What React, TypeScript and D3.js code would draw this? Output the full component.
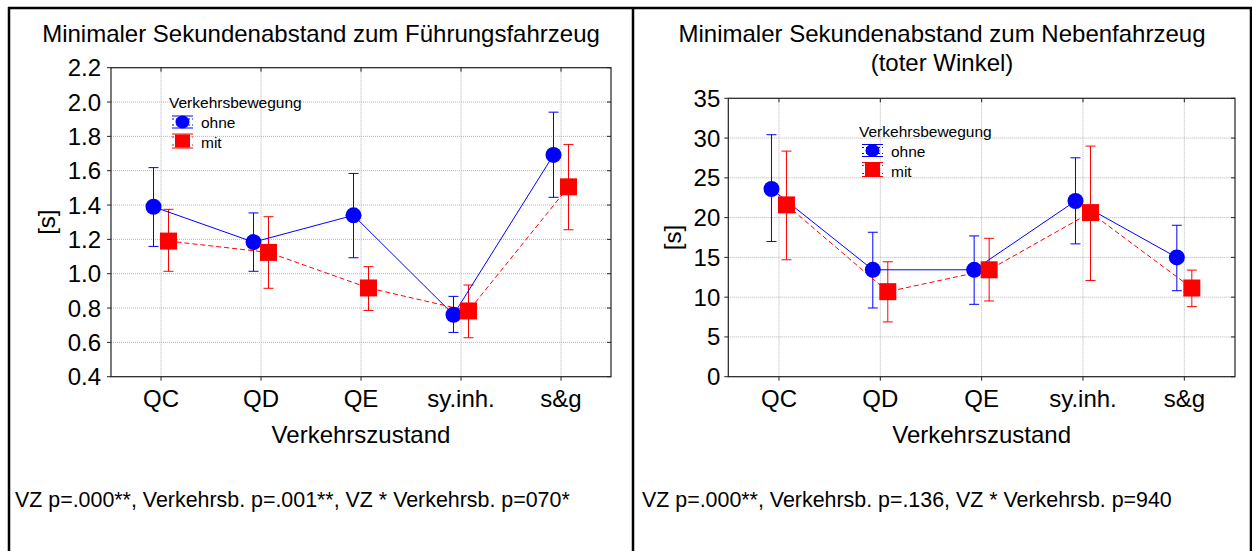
import React from "react";
import * as d3 from "d3";

const categories = ["QC", "QD", "QE", "sy.inh.", "s&g"];

// Left panel: Führungsfahrzeug [s]
const leftOhneMean = [1.39, 1.184, 1.34, 0.761, 1.692];
const leftOhneUpper = [1.618, 1.354, 1.584, 0.868, 1.941];
const leftOhneLower = [1.159, 1.014, 1.093, 0.658, 1.445];
const leftMitMean = [1.19, 1.124, 0.917, 0.783, 1.506];
const leftMitUpper = [1.375, 1.332, 1.041, 0.934, 1.753];
const leftMitLower = [1.014, 0.915, 0.786, 0.627, 1.256];
const leftTicks = [0.4, 0.6, 0.8, 1.0, 1.2, 1.4, 1.6, 1.8, 2.0, 2.2];

// Right panel: Nebenfahrzeug [s]
const rightOhneMean = [23.6, 13.44, 13.44, 22.09, 14.99];
const rightOhneUpper = [30.42, 18.16, 17.7, 27.52, 19.04];
const rightOhneLower = [17.0, 8.64, 9.1, 16.7, 10.81];
const rightMitMean = [21.6, 10.69, 13.44, 20.63, 11.15];
const rightMitUpper = [28.36, 14.45, 17.4, 28.99, 13.4];
const rightMitLower = [14.7, 6.89, 9.52, 12.1, 8.81];
const rightTicks = [0, 5, 10, 15, 20, 25, 30, 35];

const legendTitle = "Verkehrsbewegung";
const seriesNames = ["ohne", "mit"];
const xTitle = "Verkehrszustand";
const yTitle = "[s]";
const leftTitle = ["Minimaler Sekundenabstand zum Führungsfahrzeug"];
const rightTitle = ["Minimaler Sekundenabstand zum Nebenfahrzeug", "(toter Winkel)"];
const leftNote = "VZ p=.000**, Verkehrsb. p=.001**, VZ * Verkehrsb. p=070*";
const rightNote = "VZ p=.000**, Verkehrsb. p=.136, VZ * Verkehrsb. p=940";

const FONT = "'Liberation Sans', Arial, Helvetica, sans-serif";
const BLUE = "#0000ff";
const RED = "#ff0000";

type Series = { mean: number[]; upper: number[]; lower: number[] };

type PanelProps = {
  x0: number;
  x1: number;
  y0: number;
  y1: number;
  domain: [number, number];
  ticks: number[];
  fmt: (v: number) => string;
  ohne: Series;
  mit: Series;
  panelCenter: number;
  title: string[];
  legendX: number;
  legendY: number;
  yLabelX: number;
  tickGap: number;
  note: string;
  noteX: number;
};

function Panel(p: PanelProps) {
  const x = d3.scaleBand<string>().domain(categories).range([p.x0, p.x1]);
  const y = d3.scaleLinear().domain(p.domain).range([p.y1, p.y0]);
  const cx = (c: string) => (x(c) as number) + x.bandwidth() / 2;
  const off = 7.5;
  const cap = 5;

  const lineGen = (dx: number) =>
    d3
      .line<number>()
      .x((_, i) => cx(categories[i]) + dx)
      .y((v) => y(v));

  const renderErr = (s: Series, dx: number, color: string) =>
    categories.map((c, i) => {
      const xx = cx(c) + dx;
      return (
        <g key={"e" + c} stroke={color} strokeWidth={1}>
          <line x1={xx} x2={xx} y1={y(s.upper[i])} y2={y(s.lower[i])} />
          <line x1={xx - cap} x2={xx + cap} y1={y(s.upper[i])} y2={y(s.upper[i])} />
          <line x1={xx - cap} x2={xx + cap} y1={y(s.lower[i])} y2={y(s.lower[i])} />
        </g>
      );
    });

  const midY = (p.y0 + p.y1) / 2;

  return (
    <g>
      {/* title */}
      {p.title.map((t, i) => (
        <text
          key={t}
          x={p.panelCenter}
          y={42 + i * 28.5}
          textAnchor="middle"
          fontSize={24}
          fontFamily={FONT}
          fill="#000"
        >
          {t}
        </text>
      ))}
      {/* grid */}
      {p.ticks.map((t) => (
        <line
          key={"gy" + t}
          x1={p.x0}
          x2={p.x1}
          y1={y(t)}
          y2={y(t)}
          stroke="#b4b4b4"
          strokeWidth={1}
          strokeDasharray="1,1"
        />
      ))}
      {categories.map((c) => (
        <line
          key={"gx" + c}
          x1={cx(c)}
          x2={cx(c)}
          y1={p.y0}
          y2={p.y1}
          stroke="#b4b4b4"
          strokeWidth={1}
          strokeDasharray="1,1"
        />
      ))}
      {/* frame */}
      <rect x={p.x0} y={p.y0} width={p.x1 - p.x0} height={p.y1 - p.y0} fill="none" stroke="#222" strokeWidth={1.2} />
      {/* ticks */}
      {p.ticks.map((t) => (
        <g key={"t" + t} stroke="#222" strokeWidth={1}>
          <line x1={p.x0 - 4} x2={p.x0} y1={y(t)} y2={y(t)} />
          <line x1={p.x1 - 4} x2={p.x1} y1={y(t)} y2={y(t)} />
        </g>
      ))}
      {categories.map((c) => (
        <g key={"tx" + c} stroke="#222" strokeWidth={1}>
          <line x1={cx(c)} x2={cx(c)} y1={p.y1} y2={p.y1 + 4} />
          <line x1={cx(c)} x2={cx(c)} y1={p.y0} y2={p.y0 + 4} />
        </g>
      ))}
      {/* tick labels */}
      {p.ticks.map((t) => (
        <text
          key={"l" + t}
          x={p.x0 - p.tickGap}
          y={y(t) + 8.5}
          textAnchor="end"
          fontSize={24}
          fontFamily={FONT}
        >
          {p.fmt(t)}
        </text>
      ))}
      {categories.map((c) => (
        <text key={"lx" + c} x={cx(c)} y={407} textAnchor="middle" fontSize={24} fontFamily={FONT}>
          {c}
        </text>
      ))}
      <text x={(p.x0 + p.x1) / 2} y={443} textAnchor="middle" fontSize={24} fontFamily={FONT}>
        {xTitle}
      </text>
      <text
        transform={`translate(${p.yLabelX},${midY}) rotate(-90)`}
        textAnchor="middle"
        dominantBaseline="central"
        fontSize={24}
        fontFamily={FONT}
      >
        {yTitle}
      </text>
      {/* legend */}
      <g fontFamily={FONT} fontSize={15.5}>
        <text x={p.legendX} y={p.legendY}>
          {legendTitle}
        </text>
        {/* ohne */}
        <g stroke={BLUE} strokeWidth={1}>
          <line x1={p.legendX + 3} x2={p.legendX + 24} y1={p.legendY + 8} y2={p.legendY + 8} />
          <line x1={p.legendX + 3} x2={p.legendX + 24} y1={p.legendY + 20} y2={p.legendY + 20} />
          <line x1={p.legendX + 3} x2={p.legendX + 24} y1={p.legendY + 11} y2={p.legendY + 11} strokeDasharray="2,2" />
          <line x1={p.legendX + 3} x2={p.legendX + 24} y1={p.legendY + 17} y2={p.legendY + 17} strokeDasharray="2,2" />
        </g>
        <ellipse cx={p.legendX + 13.5} cy={p.legendY + 14} rx={7} ry={6.5} fill={BLUE} />
        <text x={p.legendX + 32} y={p.legendY + 20}>
          {seriesNames[0]}
        </text>
        {/* mit */}
        <g stroke={RED} strokeWidth={1}>
          <line x1={p.legendX + 3} x2={p.legendX + 24} y1={p.legendY + 26} y2={p.legendY + 26} />
          <line x1={p.legendX + 3} x2={p.legendX + 24} y1={p.legendY + 40} y2={p.legendY + 40} />
          <line x1={p.legendX + 3} x2={p.legendX + 24} y1={p.legendY + 29} y2={p.legendY + 29} strokeDasharray="2,2" />
          <line x1={p.legendX + 3} x2={p.legendX + 24} y1={p.legendY + 37} y2={p.legendY + 37} strokeDasharray="2,2" />
        </g>
        <rect x={p.legendX + 6} y={p.legendY + 26.5} width={15} height={13} fill={RED} />
        <text x={p.legendX + 32} y={p.legendY + 40}>
          {seriesNames[1]}
        </text>
      </g>
      {/* error bars */}
      {renderErr(p.ohne, -off, BLUE)}
      {renderErr(p.mit, off, RED)}
      {/* lines */}
      <path d={lineGen(-off)(p.ohne.mean) || ""} fill="none" stroke={BLUE} strokeWidth={1} />
      <path d={lineGen(off)(p.mit.mean) || ""} fill="none" stroke={RED} strokeWidth={1} strokeDasharray="5,3" />
      {/* markers */}
      {categories.map((c, i) => (
        <ellipse key={"mo" + c} cx={cx(c) - off} cy={y(p.ohne.mean[i])} rx={8} ry={8} fill={BLUE} />
      ))}
      {categories.map((c, i) => (
        <rect
          key={"mm" + c}
          x={cx(c) + off - 8.5}
          y={y(p.mit.mean[i]) - 8.5}
          width={17}
          height={17}
          fill={RED}
        />
      ))}
      {/* note */}
      <text x={p.noteX} y={507} fontSize={21.4} fontFamily={FONT}>
        {p.note}
      </text>
    </g>
  );
}

export default function App() {
  return (
    <svg
      width={1252}
      height={551}
      style={{ position: "absolute", left: 0, top: 0, background: "#fff" }}
    >
      <rect x={0} y={0} width={1252} height={551} fill="#fff" />
      {/* outer frame */}
      <line x1={8} x2={1252} y1={8} y2={8} stroke="#000" strokeWidth={2.5} />
      <line x1={9} x2={9} y1={7} y2={551} stroke="#000" strokeWidth={2.5} />
      <line x1={633} x2={633} y1={7} y2={551} stroke="#000" strokeWidth={2.5} />
      <line x1={1251} x2={1251} y1={7} y2={551} stroke="#000" strokeWidth={2.5} />
      <Panel
        x0={111}
        x1={611}
        y0={67.7}
        y1={376.7}
        domain={[0.4, 2.2]}
        ticks={leftTicks}
        fmt={d3.format(".1f")}
        ohne={{ mean: leftOhneMean, upper: leftOhneUpper, lower: leftOhneLower }}
        mit={{ mean: leftMitMean, upper: leftMitUpper, lower: leftMitLower }}
        panelCenter={321}
        title={leftTitle}
        legendX={169}
        legendY={108}
        yLabelX={46}
        tickGap={10}
        note={leftNote}
        noteX={15}
      />
      <Panel
        x0={728.3}
        x1={1235}
        y0={98.3}
        y1={376.7}
        domain={[0, 35]}
        ticks={rightTicks}
        fmt={d3.format("d")}
        ohne={{ mean: rightOhneMean, upper: rightOhneUpper, lower: rightOhneLower }}
        mit={{ mean: rightMitMean, upper: rightMitUpper, lower: rightMitLower }}
        panelCenter={942}
        title={rightTitle}
        legendX={859}
        legendY={136.5}
        yLabelX={672}
        tickGap={8}
        note={rightNote}
        noteX={642}
      />
    </svg>
  );
}
